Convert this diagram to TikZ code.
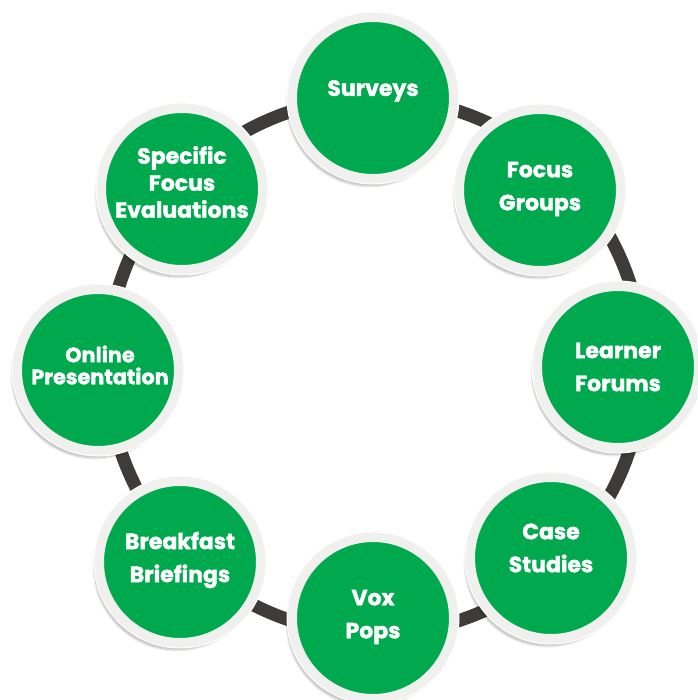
\documentclass[tikz,border=0pt]{standalone}
\usepackage{fontspec}
\setmainfont{Poppins}[BoldFeatures={FakeBold=1.6}]
\usetikzlibrary{shadows.blur}
\definecolor{topgreen}{RGB}{0,168,78}
\definecolor{ringgrey}{RGB}{62,59,59}
\definecolor{rimgrey}{RGB}{240,240,238}
\tikzset{
  bubble/.style={circle, inner sep=0pt, minimum size=162pt, fill=topgreen,
    draw=rimgrey, line width=10pt,
    blur shadow={shadow xshift=-3pt, shadow yshift=-5pt, shadow blur steps=12,
      shadow opacity=30, shadow scale=1.02}},
  rimline/.style={draw=white, line width=1pt},
  caption/.style={text=white, align=center, font=\fontsize{22}{33}\selectfont\bfseries},
  ring/.style={draw=ringgrey, line width=13pt}
}
\begin{document}
\begin{tikzpicture}[x=1pt, y=-1pt]
\useasboundingbox (0,0) rectangle (697,700);
\clip (0,0) rectangle (697,700);
\coordinate (hub) at (375,366);
\draw[ring] (hub) circle (268pt);
% bubbles
\node[bubble] (c1) at (373,98) {};
\node[bubble] (c2) at (540,190) {};
\node[bubble] (c3) at (618,367) {};
\node[bubble] (c4) at (551,558) {};
\node[bubble] (c5) at (373,618) {};
\node[bubble] (c6) at (180,562) {};
\node[bubble] (c7) at (98,370) {};
\node[bubble] (c8) at (182,189) {};
\foreach \n in {c1,c2,c3,c4,c5,c6,c7,c8}{
  \draw[rimline] (\n.center) circle (86pt);
}
% captions
\node[caption] (t1) at ([yshift=7pt]c1.center) {Surveys};
\node[caption] (t2) at ([yshift=1pt]c2.center) {Focus\\Groups};
\node[caption] (t3) at ([yshift=0pt]c3.center) {Learner\\Forums};
\node[caption] (t4) at ([yshift=10pt]c4.center) {Case\\Studies};
\node[caption] (t5) at ([yshift=1pt]c5.center) {Vox\\Pops};
\node[caption] (t6) at ([yshift=2pt]c6.center) {Breakfast\\Briefings};
\node[caption, font=\fontsize{20.8}{22}\selectfont\bfseries] (t7) at ([xshift=2pt,yshift=5pt]c7.center) {Online\\Presentation};
\node[caption, font=\fontsize{22}{27}\selectfont\bfseries] (t8) at ([yshift=7pt]c8.center) {Specific\\Focus\\Evaluations};
\end{tikzpicture}
\end{document}
